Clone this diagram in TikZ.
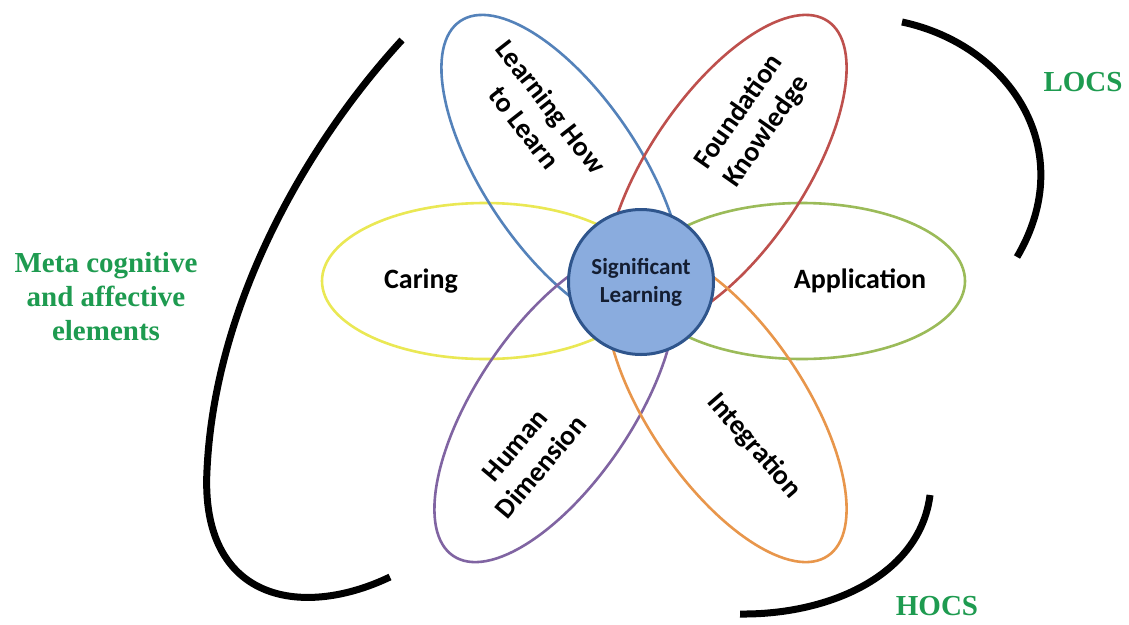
\documentclass[tikz,border=0pt]{standalone}
\usepackage{fontspec}
\setmainfont{Carlito}
\newfontfamily\serifbold{Liberation Serif}
\usetikzlibrary{shapes.geometric}
\definecolor{cyellow}{RGB}{234,232,84}
\definecolor{cgreen}{RGB}{155,187,89}
\definecolor{cblue}{RGB}{84,130,186}
\definecolor{cred}{RGB}{190,80,77}
\definecolor{cpurple}{RGB}{128,100,162}
\definecolor{corange}{RGB}{232,150,75}
\definecolor{cdark}{RGB}{47,85,140}
\definecolor{cfill}{RGB}{138,172,222}
\definecolor{tgreen}{RGB}{30,155,80}
\definecolor{ctext}{RGB}{20,30,50}
\begin{document}
\begin{tikzpicture}[x=1pt,y=-1pt,
  petal/.style={ellipse, draw, line width=2.6pt, minimum width=364pt, minimum height=156pt, inner sep=0pt},
  hpetal/.style={petal, minimum width=326pt},
  lbl/.style={font=\fontsize{28}{34}\selectfont\bfseries, align=center, text=black, inner sep=0pt},
  side/.style={font=\serifbold\fontsize{29}{34}\selectfont\bfseries, text=tgreen, align=center, inner sep=0pt},
  bracket/.style={line width=7pt, black}]
\useasboundingbox (0,0) rectangle (1129,624);
\fill[white] (0,0) rectangle (1129,624);
% petals
\node[hpetal, draw=cyellow] (caring) at (485,281) {};
\node[hpetal, draw=cgreen] (appl) at (802,281) {};
\node[petal, draw=cblue, rotate=-56] (lhl) at (562,172) {};
\node[petal, draw=cred, rotate=56] (fk) at (726,172) {};
\node[petal, draw=cpurple, rotate=56] (hd) at (555,405) {};
\node[petal, draw=corange, rotate=-56] (integ) at (726,405) {};
% centre
\node[circle, draw=cdark, fill=cfill, line width=3pt, minimum size=145pt, inner sep=0pt,
  align=center, font=\fontsize{23}{28}\selectfont\bfseries, text=ctext] (sl) at (641,282) {Significant\\Learning};
% labels
\node[lbl] (tcaring) at (421,281) {Caring};
\node[lbl] (tappl) at (860,281) {Application};
\node[lbl, rotate=-52] (tlhl) at (538,117) {Learning How\\to Learn};
\node[lbl, rotate=55] (tfk) at (753,122) {Foundation\\Knowledge};
\node[lbl, rotate=50] (thd) at (528,456) {Human\\Dimension};
\node[lbl, rotate=-49] (tint) at (754,446) {Integration};
% brackets
\draw[bracket] (402,40) .. controls (310,140) and (215,300) .. (207,470)
               .. controls (200,600) and (300,620) .. (390,577);
\draw[bracket] (902,22) .. controls (1010,45) and (1080,150) .. (1017,257);
\draw[bracket] (930,495) .. controls (920,575) and (830,615) .. (740,614);
% side texts
\node[side] (meta) at (106,297) {Meta cognitive\\and affective\\elements};
\node[side] (locs) at (1083,82) {LOCS};
\node[side] (hocs) at (937,606) {HOCS};
\end{tikzpicture}
\end{document}
